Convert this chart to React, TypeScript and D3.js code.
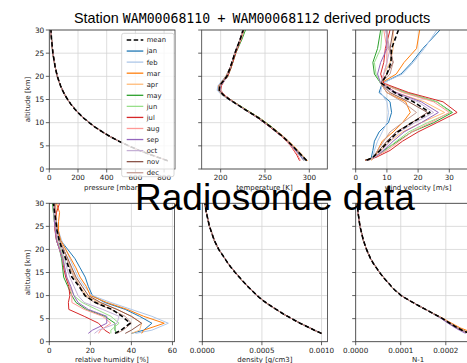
import React from 'react';
import * as d3 from 'd3';

// ---------- data ----------
const months = ['jan', 'feb', 'mar', 'apr', 'may', 'jun', 'jul', 'aug', 'sep', 'oct', 'nov', 'dec'];
const monthColors = ['#1f77b4', '#aec7e8', '#ff7f0e', '#ffbb78', '#2ca02c', '#98df8a',
  '#d62728', '#ff9896', '#9467bd', '#c5b0d5', '#8c564b', '#c49c94'];

// altitude grids [km]
const altProfile = [1.8, 2.5, 3, 4, 5, 6, 7, 8, 9, 10, 11, 12, 13, 14, 15, 16, 17, 18, 20, 22, 25, 28, 30];
const altTemp = [1.8, 3, 5, 7, 9, 11, 13, 15, 16, 17, 18, 19, 20, 22, 25, 28, 30];
const altWind = [1.9, 2.5, 4, 6, 8, 10, 12.2, 14.5, 16.5, 18.5, 20.5, 23, 26, 30];
const altHumidity = [1.8, 2.5, 4, 5.5, 7, 8.5, 10, 12, 14, 16, 18, 20, 22, 24, 26, 28, 30];

// pressure [mbar] on altProfile
const pressureMean = [825, 760, 712, 628, 553, 485, 424, 370, 321, 278, 240, 206, 176, 150, 128, 108, 92, 78, 56, 41, 25, 15.5, 11.5];
// density [g/cm3] on altProfile
const densityMean = [0.00100, 0.00094, 0.00090, 0.00082, 0.00075, 0.00068, 0.00062, 0.00056, 0.000505, 0.00046,
  0.00042, 0.00038, 0.000345, 0.00031, 0.000276, 0.000245, 0.000215, 0.00019, 0.000138, 0.0001, 0.00006, 0.000034, 0.000022];
// refractivity N-1 on altProfile
const refractivityMean = [0.000252, 0.000236, 0.000226, 0.000209, 0.000193, 0.000174, 0.000155, 0.000136, 0.000118, 0.000101,
  0.000089, 0.000079, 0.00007, 0.000061, 0.000053, 0.000046, 0.000039, 0.000033, 0.000024, 0.000017, 0.0000095, 0.0000052, 0.0000035];
const refractivityMar = [0.000264, 0.000245, 0.000232, 0.000213, 0.000195, 0.000175, 0.000155, 0.000136, 0.000118, 0.000101,
  0.000089, 0.000079, 0.00007, 0.000061, 0.000053, 0.000046, 0.000039, 0.000033, 0.000024, 0.000017, 0.0000095, 0.0000052, 0.0000035];
const refractivitySep = [0.000244, 0.00023, 0.000221, 0.000205, 0.00019, 0.000173, 0.000155, 0.000136, 0.000118, 0.000101,
  0.000089, 0.000079, 0.00007, 0.000061, 0.000053, 0.000046, 0.000039, 0.000033, 0.000024, 0.000017, 0.0000095, 0.0000052, 0.0000035];

// temperature [K] on altTemp
const tempMean = [297, 291, 281, 270, 257, 243, 226, 210, 203, 198.5, 199, 203, 207, 211, 216, 222, 225.5];
const tempMonthly = [
  [297, 290, 280, 269, 256, 242, 226, 210, 202, 197, 198, 202, 206, 211, 216, 222, 225],
  [297, 291, 281, 270, 257, 243, 226, 209, 201, 196, 197, 201, 206, 211, 216, 222, 225],
  [298, 292, 282, 271, 258, 244, 227, 210, 202, 197.5, 198, 202, 206, 211, 216, 222, 226],
  [298, 292, 282, 271, 258, 244, 227, 211, 203, 198, 199, 203, 207, 211, 216, 222, 226],
  [297, 291, 281, 270, 258, 244, 227, 211, 204, 199, 200, 204, 208, 212, 217, 224, 228],
  [294, 289, 280, 270, 257, 243, 226, 211, 204, 200, 200, 204, 208, 212, 217, 223, 227],
  [289, 286, 279, 269, 256, 242, 226, 211, 204, 200, 201, 204, 208, 212, 217, 223, 226],
  [290, 287, 279, 269, 257, 243, 226, 211, 204, 200, 200, 204, 207, 211, 216, 223, 226],
  [294, 289, 280, 270, 257, 243, 226, 210, 203, 199, 200, 204, 207, 211, 216, 222, 225],
  [297, 291, 281, 270, 257, 243, 226, 210, 203, 199, 200, 204, 207, 211, 216, 222, 225],
  [297, 291, 281, 270, 257, 243, 226, 210, 203, 198.5, 199, 203, 207, 211, 216, 222, 225],
  [297, 291, 281, 270, 257, 243, 226, 210, 202, 197.5, 198, 202, 206, 211, 216, 222, 225],
];

// wind velocity [m/s] on altWind
const windMean = [3.5, 5.5, 7.8, 10.5, 13.5, 18, 23.8, 18.5, 12.5, 8.3, 10, 11.3, 11.5, 13.7];
const windMonthly = [
  [4.5, 5, 5.5, 6, 7.5, 10.5, 11.5, 11, 7.5, 8.5, 14.5, 18, 21.5, 27],
  [5, 5.5, 6, 7, 8.5, 10, 10.5, 10, 8, 8.5, 15, 18.5, 22, 26],
  [5, 6, 7, 8.5, 12, 15, 17.5, 16, 10, 8, 13, 15.5, 19.5, 20.5],
  [4, 6, 8, 11, 15, 21, 28.5, 22, 13, 8, 9, 11, 12, 12],
  [3, 6, 9, 13.5, 18, 25, 31, 26, 16, 8, 6, 5.5, 7, 8],
  [3.5, 6, 9.5, 13, 17, 23, 30.5, 26, 16, 8, 6.5, 6, 8, 8.5],
  [3, 6.5, 11, 15, 20, 26, 32.5, 28, 17, 9, 8, 9, 9.5, 11],
  [4, 6, 10, 14, 18, 24, 30, 25, 15, 8.5, 9, 10, 10, 9],
  [3.5, 6, 9, 12, 15.5, 21, 26.5, 21, 13, 8, 7, 8, 10, 10],
  [4, 6, 8.5, 11, 14, 19, 25, 20, 12, 8, 9, 10, 11, 9.5],
  [4, 5.5, 7.5, 10, 13, 18, 23, 17, 11, 8, 10, 12, 11, 12],
  [4.5, 5.5, 7, 9, 11, 15, 19.5, 15, 10, 8, 11, 12, 10.5, 10],
];

// relative humidity [%] on altHumidity
const humidityMean = [32, 35, 39.4, 35.5, 30.5, 22.5, 17.4, 14.5, 11, 9.5, 8, 6.3, 4.8, 3.8, 3.2, 2.6, 2.0];
const humidityMonthly = [
  [40, 46, 50, 44, 37, 27, 21, 19, 17.5, 15, 12.5, 9, 5.5, 4, 3.2, 3, 2.5],
  [42, 50, 58, 50, 40, 30, 21, 17, 14, 12, 10, 8, 6, 4.5, 3.5, 3, 2.5],
  [45, 46, 56, 46, 38, 28, 20, 18, 15, 13, 10.5, 8, 5.5, 4.5, 4.5, 5, 3.5],
  [40, 44, 45, 40, 33, 24, 18, 15, 12.5, 10.5, 9, 7, 5, 4, 3.5, 3.5, 3],
  [33, 32, 32, 27, 18, 13, 11, 9, 7, 6.5, 6, 5, 3.5, 3, 2.5, 2, 1.5],
  [30, 30, 34, 30, 23, 16, 12, 10, 8, 7.5, 7, 5.5, 4, 3, 2.5, 2, 1.8],
  [29.5, 27, 24, 17, 9.5, 9.3, 10, 9.5, 8, 7, 6.5, 5, 3.5, 2.8, 2.5, 3.5, 5],
  [24, 25, 30, 26, 17, 11, 11, 10, 8.5, 7.5, 6.5, 5, 3.8, 3, 2.5, 2.5, 2.5],
  [19, 21, 28, 28, 19, 14, 12, 10.5, 8.5, 7.5, 6.5, 5, 3.5, 3, 2.5, 2.3, 2],
  [22, 24, 33, 34, 26, 17, 14, 12, 10, 8.5, 7.5, 6, 4.5, 3.5, 3, 2.5, 2],
  [37, 40, 45, 40, 33, 25, 19, 16, 13, 11, 9, 7, 5, 4, 3.5, 3, 2.5],
  [33, 36, 40, 37, 30, 22, 17, 15, 12, 10, 8.5, 7, 5, 4, 3.5, 3, 3],
];

const altitudeTicks = [0, 5, 10, 15, 20, 25, 30];

// ---------- layout ----------
const W = 467;
const H = 363;
const FONT = 'DejaVu Sans';
const rows = [
  { top: 30, bottom: 169 },
  { top: 203.3, bottom: 341.7 },
];

type Series = { xs: number[]; alts: number[]; color: string; dashed?: boolean };
type PanelCfg = {
  id: string;
  row: number;
  left: number;
  right: number;
  domain: [number, number];
  ticks: number[];
  fmt: (v: number) => string;
  label: string;
  yLabels: boolean;
  series: Series[];
};

const intFmt = d3.format('d');
const smallFmt = d3.format('.4f');

function withMean(monthly: number[][], alts: number[], mean: number[]): Series[] {
  const s: Series[] = monthly.map((xs, i) => ({ xs, alts, color: monthColors[i] }));
  s.push({ xs: mean, alts, color: '#000000', dashed: true });
  return s;
}

const refractivityByMonth = months.map((m) =>
  m === 'mar' ? refractivityMar : m === 'sep' ? refractivitySep : refractivityMean);

const panels: PanelCfg[] = [
  {
    id: 'pressure', row: 0, left: 49.3, right: 175, domain: [0, 876], ticks: [0, 200, 400, 600, 800],
    fmt: intFmt, label: 'pressure [mbar]', yLabels: true,
    series: withMean(months.map(() => pressureMean), altProfile, pressureMean),
  },
  {
    id: 'temperature', row: 0, left: 201.7, right: 327.3, domain: [178.6, 320.3], ticks: [200, 250, 300],
    fmt: intFmt, label: 'temperature [K]', yLabels: false,
    series: withMean(tempMonthly, altTemp, tempMean),
  },
  {
    id: 'wind', row: 0, left: 355.7, right: 480.5, domain: [0, 40], ticks: [0, 10, 20, 30],
    fmt: intFmt, label: 'wind velocity [m/s]', yLabels: false,
    series: withMean(windMonthly, altWind, windMean),
  },
  {
    id: 'humidity', row: 1, left: 49.3, right: 174.5, domain: [0, 61], ticks: [0, 20, 40, 60],
    fmt: intFmt, label: 'relative humidity [%]', yLabels: true,
    series: withMean(humidityMonthly, altHumidity, humidityMean),
  },
  {
    id: 'density', row: 1, left: 202.3, right: 327.5, domain: [0, 0.00105], ticks: [0, 0.0005, 0.001],
    fmt: smallFmt, label: 'density [g/cm3]', yLabels: false,
    series: withMean(months.map(() => densityMean), altProfile, densityMean),
  },
  {
    id: 'refractivity', row: 1, left: 355.7, right: 480.5, domain: [0, 0.000277], ticks: [0, 0.0001, 0.0002],
    fmt: smallFmt, label: 'N-1', yLabels: false,
    series: withMean(refractivityByMonth, altProfile, refractivityMean),
  },
];

const GRID = '#d4d4d4';
const SPINE = '#3a3a3a';
const DASH = '4.5 2.5';

function Panel({ cfg }: { cfg: PanelCfg }) {
  const row = rows[cfg.row];
  const x = d3.scaleLinear().domain(cfg.domain).range([cfg.left, cfg.right]);
  const y = d3.scaleLinear().domain([0, 30]).range([row.bottom, row.top]);
  const line = d3.line<[number, number]>().x((d) => x(d[0])).y((d) => y(d[1]));
  const clipId = `clip-${cfg.id}`;
  return (
    <g>
      <defs>
        <clipPath id={clipId}>
          <rect x={cfg.left} y={row.top} width={cfg.right - cfg.left} height={row.bottom - row.top} />
        </clipPath>
      </defs>
      <rect x={cfg.left} y={row.top} width={cfg.right - cfg.left} height={row.bottom - row.top} fill="#ffffff" />
      {/* grid */}
      {cfg.ticks.map((t) => (
        <line key={`gx${t}`} x1={x(t)} x2={x(t)} y1={row.top} y2={row.bottom} stroke={GRID} strokeWidth={0.8} />
      ))}
      {altitudeTicks.map((t) => (
        <line key={`gy${t}`} x1={cfg.left} x2={cfg.right} y1={y(t)} y2={y(t)} stroke={GRID} strokeWidth={0.8} />
      ))}
      {/* profiles */}
      <g clipPath={`url(#${clipId})`}>
        {cfg.series.map((s, i) => (
          <path
            key={i}
            d={line(s.xs.map((v, k) => [v, s.alts[k]] as [number, number])) || ''}
            fill="none"
            stroke={s.color}
            strokeWidth={s.dashed ? 1.6 : 1}
            strokeDasharray={s.dashed ? DASH : undefined}
            strokeLinejoin="round"
          />
        ))}
      </g>
      {/* spines */}
      <rect x={cfg.left} y={row.top} width={cfg.right - cfg.left} height={row.bottom - row.top}
        fill="none" stroke={SPINE} strokeWidth={0.8} />
      {/* x ticks */}
      {cfg.ticks.map((t) => (
        <g key={`tx${t}`}>
          <line x1={x(t)} x2={x(t)} y1={row.bottom} y2={row.bottom + 3.5} stroke={SPINE} strokeWidth={0.8} />
          <text x={x(t)} y={row.bottom + 10.8} fontSize={7.2} fontFamily={FONT} textAnchor="middle" fill="#222">
            {cfg.fmt(t)}
          </text>
        </g>
      ))}
      {/* y ticks */}
      {altitudeTicks.map((t) => (
        <g key={`ty${t}`}>
          <line x1={cfg.left - 3.5} x2={cfg.left} y1={y(t)} y2={y(t)} stroke={SPINE} strokeWidth={0.8} />
          {cfg.yLabels && (
            <text x={cfg.left - 5} y={y(t)} dy="0.35em" fontSize={7.4} fontFamily={FONT} textAnchor="end" fill="#222">
              {t}
            </text>
          )}
        </g>
      ))}
      <text x={(cfg.left + cfg.right) / 2} y={row.bottom + 20.5} fontSize={7} fontFamily={FONT}
        textAnchor="middle" fill="#222">
        {cfg.label}
      </text>
      {cfg.yLabels && (
        <text transform={`translate(${28},${(row.top + row.bottom) / 2}) rotate(-90)`} fontSize={7}
          fontFamily={FONT} textAnchor="middle" dy="0.35em" fill="#222">
          altitude [km]
        </text>
      )}
    </g>
  );
}

function Legend() {
  const entries = [{ name: 'mean', color: '#000000', dashed: true },
    ...months.map((m, i) => ({ name: m, color: monthColors[i], dashed: false }))];
  const top = 40;
  const step = 11.06;
  return (
    <g>
      <rect x={121.7} y={33.3} width={52.3} height={143.4} rx={2} fill="#ffffff" fillOpacity={0.8}
        stroke="#cccccc" strokeWidth={0.8} />
      {entries.map((e, i) => (
        <g key={e.name}>
          <line x1={126.7} x2={143.3} y1={top + i * step} y2={top + i * step} stroke={e.color}
            strokeWidth={e.dashed ? 1.6 : 1.3} strokeDasharray={e.dashed ? DASH : undefined} />
          <text x={146.7} y={top + i * step} dy="0.35em" fontSize={6.8} fontFamily={FONT} fill="#222">
            {e.name}
          </text>
        </g>
      ))}
    </g>
  );
}

export default function App() {
  return (
    <svg width={W} height={H} viewBox={`0 0 ${W} ${H}`}
      style={{ position: 'absolute', left: 0, top: 0, background: '#ffffff' }}>
      <rect x={0} y={0} width={W} height={H} fill="#ffffff" />
      <text x={74} y={23} fontSize={14.4} fontFamily="Liberation Sans" fill="#000" style={{ whiteSpace: 'pre' }}>
        <tspan>{'Station '}</tspan>
        <tspan fontFamily="DejaVu Sans Mono" fontSize={13.2}>WAM00068110</tspan>
        <tspan dx={3}>{' + '}</tspan>
        <tspan dx={3} fontFamily="DejaVu Sans Mono" fontSize={13.2}>WAM00068112</tspan>
        <tspan>{' derived products'}</tspan>
      </text>
      {panels.map((p) => (
        <Panel key={p.id} cfg={p} />
      ))}
      <Legend />
      <text x={135} y={209.5} fontSize={37} fontFamily="Liberation Sans" fill="#000">
        Radiosonde data
      </text>
    </svg>
  );
}
